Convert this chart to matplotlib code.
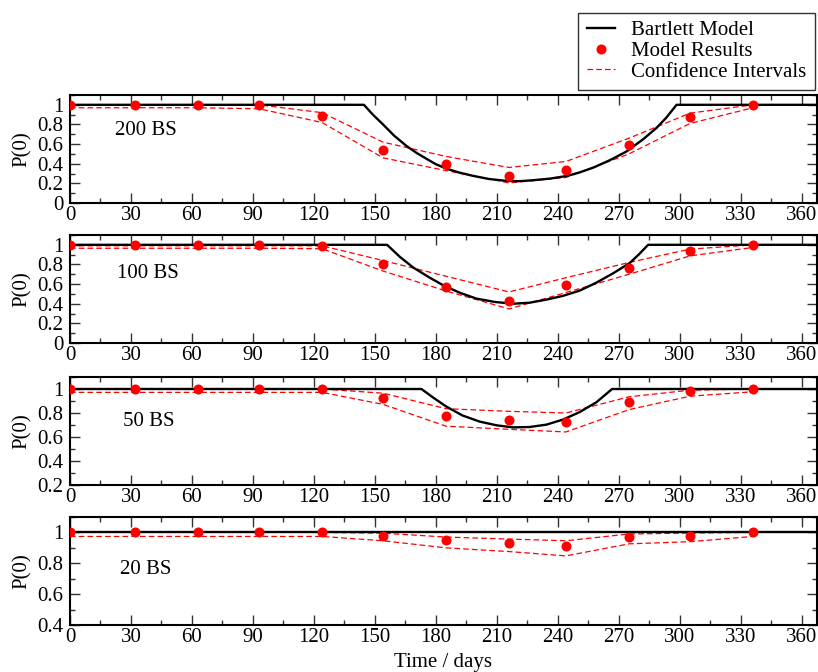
import matplotlib
matplotlib.use("Agg")
import matplotlib.pyplot as plt
from matplotlib.ticker import MultipleLocator, FormatStrFormatter
from matplotlib.lines import Line2D

plt.rcParams['font.family'] = ['Liberation Serif', 'DejaVu Serif']
plt.rcParams['font.size'] = 15

# ---- data ----
days = [0, 32, 63, 93, 124, 154, 185, 216, 244, 275, 305, 336]

res200 = [1, 1, 1, 1, 0.887, 0.535, 0.40, 0.276, 0.335, 0.594, 0.877, 1.0]
hi200 = [1, 1, 1, 1, 0.92, 0.62, 0.474, 0.362, 0.423, 0.66, 0.915, 1.0]
lo200 = [0.97, 0.97, 0.97, 0.96, 0.82, 0.46, 0.33, 0.205, 0.26, 0.50, 0.81, 0.97]
bart200_days = [0, 144.6, 149, 154, 159.5, 165.6, 170.5, 175.4, 180, 185.2, 191.5, 198.4, 206, 214.8,
                221, 227.9, 236, 244.3, 250.5, 257.4, 265.5, 273.8, 282, 288.5, 293.4, 298.4, 367.5]
bart200 = [1, 1, 0.90, 0.80, 0.685, 0.58, 0.51, 0.45, 0.395, 0.35, 0.31, 0.276, 0.245, 0.225,
           0.222, 0.232, 0.248, 0.275, 0.31, 0.36, 0.435, 0.525, 0.65, 0.764, 0.87, 1, 1]

res100 = [1, 1, 1, 1, 0.99, 0.80, 0.572, 0.432, 0.586, 0.762, 0.935, 1.0]
hi100 = [0.99, 0.99, 0.99, 0.99, 0.99, 0.84, 0.68, 0.52, 0.665, 0.82, 0.956, 1.0]
lo100 = [0.965, 0.965, 0.965, 0.965, 0.96, 0.733, 0.53, 0.347, 0.514, 0.70, 0.887, 0.973]
bart100_days = [0, 156, 162.3, 168.9, 177, 184.4, 192, 200, 209, 218, 226, 234.4, 242.5, 250.8,
                259, 267.2, 275.4, 280, 284.4, 367.5]
bart100 = [1, 1, 0.877, 0.768, 0.665, 0.579, 0.51, 0.452, 0.418, 0.40, 0.41, 0.442, 0.48, 0.534,
           0.615, 0.71, 0.815, 0.905, 1, 1]

res50 = [1, 1, 1, 1, 1, 0.922, 0.772, 0.742, 0.722, 0.892, 0.983, 1.0]
hi50 = [1, 1, 1, 1, 1, 0.965, 0.836, 0.814, 0.80, 0.935, 0.99, 1.0]
lo50 = [0.972, 0.972, 0.972, 0.972, 0.972, 0.872, 0.69, 0.664, 0.642, 0.828, 0.94, 0.977]
bart50_days = [0, 172.9, 178.7, 185.2, 193, 201.6, 210, 218, 226, 234.4, 242.5, 250.8, 259, 266.7, 367.5]
bart50 = [1, 1, 0.928, 0.853, 0.78, 0.728, 0.697, 0.68, 0.683, 0.703, 0.745, 0.808, 0.89, 1, 1]

res20 = [1, 1, 1, 1, 1, 0.98, 0.95, 0.931, 0.912, 0.97, 0.98, 1.0]
hi20 = [1, 1, 1, 1, 1, 0.995, 0.97, 0.957, 0.946, 0.99, 0.996, 1.0]
lo20 = [0.974, 0.974, 0.974, 0.974, 0.974, 0.946, 0.90, 0.876, 0.848, 0.926, 0.94, 0.974]
bart20_days = [0, 367.5]
bart20 = [1, 1]

panel_labels = ["200 BS", "100 BS", "50 BS", "20 BS"]
ylims = [(0, 1.1), (0, 1.1), (0.2, 1.1), (0.4, 1.1)]
xticks = [0, 30, 60, 90, 120, 150, 180, 210, 240, 270, 300, 330, 360]

panels = [
    (res200, hi200, lo200, bart200_days, bart200),
    (res100, hi100, lo100, bart100_days, bart100),
    (res50, hi50, lo50, bart50_days, bart50),
    (res20, hi20, lo20, bart20_days, bart20),
]

# ---- figure ----
W, H = 818, 672
fig = plt.figure(figsize=(W / 100, H / 100), dpi=100)

tops = [95, 235, 377, 517]
bots = [203, 343, 485, 625]
left_px, right_px = 70, 817
label_pos = [(0.06, 0.667), (0.063, 0.645), (0.071, 0.586), (0.067, 0.516)]

red = '#ff0000'
fs = 15
for i, (res, hi, lo, bd, bv) in enumerate(panels):
    ax = fig.add_axes([left_px / W, 1 - bots[i] / H, (right_px - left_px) / W,
                       (bots[i] - tops[i]) / H])
    ax.plot(bd, bv, color='black', lw=1.7, zorder=3)
    ax.plot(days, hi, color=red, lw=0.9, dashes=(4.5, 2.5), zorder=2)
    ax.plot(days, lo, color=red, lw=0.9, dashes=(4.5, 2.5), zorder=2)
    ax.plot(days, res, 'o', color=red, ms=6.2, mec=red, zorder=4)
    ax.set_xlim(0, 367.5)
    ax.set_ylim(*ylims[i])
    ax.set_xticks(xticks)
    ax.xaxis.set_minor_locator(MultipleLocator(15))
    ax.yaxis.set_major_locator(MultipleLocator(0.2))
    ax.yaxis.set_minor_locator(MultipleLocator(0.1))
    ax.yaxis.set_major_formatter(FormatStrFormatter('%g'))
    ax.tick_params(which='both', direction='in', top=True, right=True,
                   labelsize=fs, color='#333333')
    ax.tick_params(which='major', length=7, width=1.0)
    ax.tick_params(which='minor', length=3.5, width=1.0)
    ax.tick_params(axis='x', which='major', pad=2.5)
    ax.tick_params(axis='y', which='major', pad=4.5)
    for s in ax.spines.values():
        s.set_linewidth(1.5)
    ax.set_ylabel('P(0)', fontsize=fs)
    ax.yaxis.set_label_coords(-0.051, 0.5)
    ax.text(label_pos[i][0], label_pos[i][1], panel_labels[i], transform=ax.transAxes,
            fontsize=fs, va='center', ha='left')
    if i == 3:
        ax.set_xlabel('Time / days', fontsize=fs, labelpad=4)

handles = [
    Line2D([], [], color='black', lw=1.7),
    Line2D([], [], ls='none', marker='o', color=red, ms=6.2),
    Line2D([], [], color=red, lw=0.9, dashes=(4.5, 2.5)),
]
leg = fig.legend(handles, ['Bartlett Model', 'Model Results', 'Confidence Intervals'],
                 loc='upper right', bbox_to_anchor=(815 / W, 1 - 12.5 / H),
                 fontsize=fs, frameon=True, fancybox=False, handlelength=1.35,
                 borderpad=0.4, labelspacing=0.05, handletextpad=0.8,
                 borderaxespad=0)
leg.get_frame().set_edgecolor('black')
leg.get_frame().set_linewidth(1.0)

fig.savefig('out.png', dpi=100)
